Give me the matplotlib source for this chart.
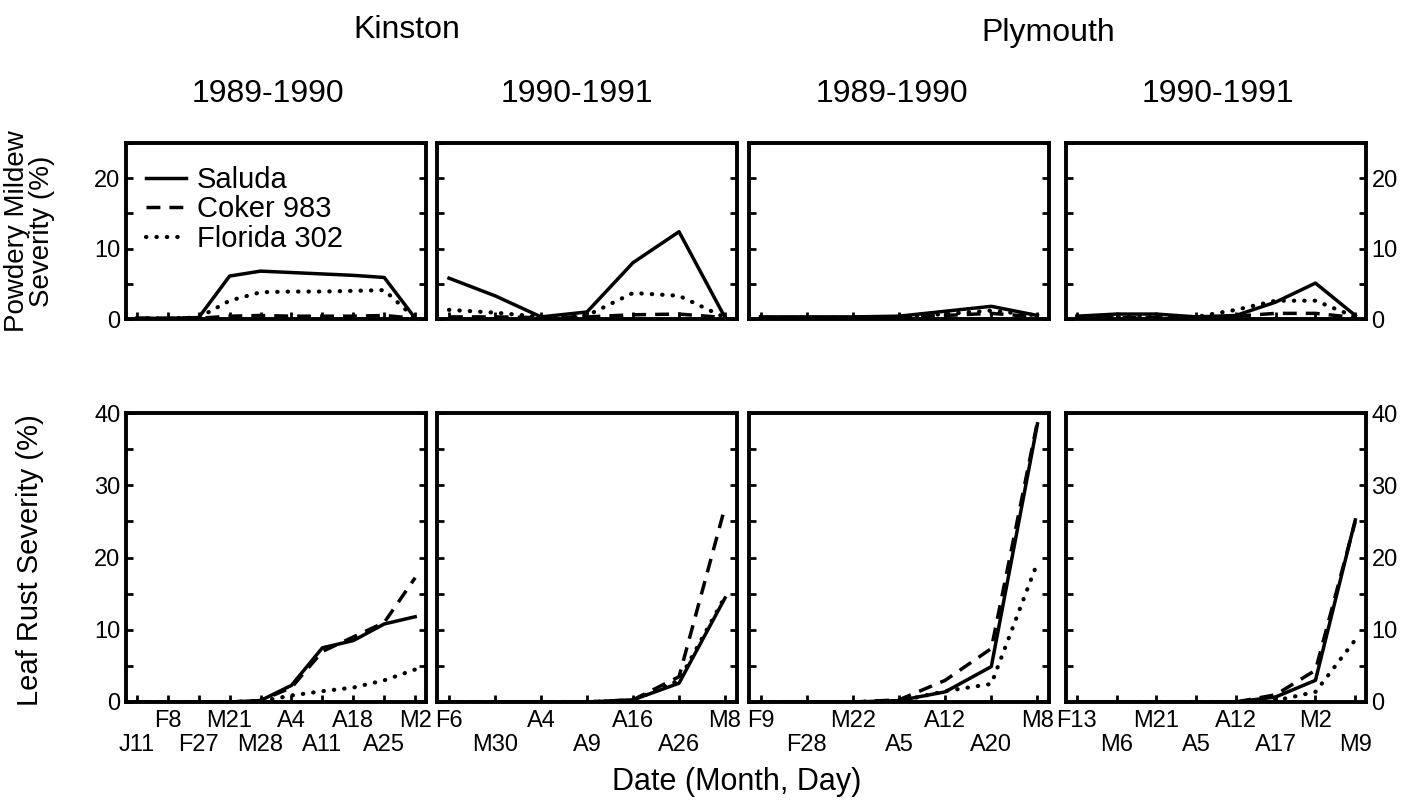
import matplotlib
matplotlib.use('Agg')
import matplotlib.pyplot as plt
from matplotlib import font_manager
from matplotlib.ticker import MultipleLocator

plt.rcParams['font.family'] = ['Liberation Sans', 'DejaVu Sans']

# narrow face for the headers if it is installed (the original looks condensed)
installed = {f.name for f in font_manager.fontManager.ttflist}
if 'Liberation Sans Narrow' in installed:
    head_font, head_size = 'Liberation Sans Narrow', 27
else:
    head_font, head_size = 'Liberation Sans', 23

# sampling dates per site/season (labels as printed)
dates_k90 = ['J11', 'F8', 'F27', 'M21', 'M28', 'A4', 'A11', 'A18', 'A25', 'M2']
dates_k91 = ['F6', 'M30', 'A4', 'A9', 'A16', 'A26', 'M8']
dates_p90 = ['F9', 'F28', 'M22', 'A5', 'A12', 'A20', 'M8']
dates_p91 = ['F13', 'M6', 'M21', 'A5', 'A12', 'A17', 'M2', 'M9']

cultivars = ['Saluda', 'Coker 983', 'Florida 302']

# powdery mildew severity (%)
pm_saluda_k90 = [0.1, 0.1, 0.2, 6.1, 6.8, 6.6, 6.4, 6.2, 5.9, 0.1]
pm_coker_k90 = [0.1, 0.1, 0.1, 0.4, 0.5, 0.4, 0.4, 0.4, 0.5, 0.1]
pm_florida_k90 = [0.1, 0.1, 0.2, 2.6, 3.8, 3.9, 3.9, 4.0, 4.1, 0.1]

pm_saluda_k91 = [5.8, 3.3, 0.3, 1.0, 8.0, 12.4, 0.2]
pm_coker_k91 = [0.3, 0.3, 0.2, 0.3, 0.6, 0.7, 0.2]
pm_florida_k91 = [1.3, 0.9, 0.3, 0.5, 3.7, 3.3, 0.2]

pm_saluda_p90 = [0.3, 0.3, 0.3, 0.4, 1.1, 1.8, 0.5]
pm_coker_p90 = [0.2, 0.2, 0.2, 0.3, 0.5, 0.8, 0.3]
pm_florida_p90 = [0.2, 0.2, 0.2, 0.3, 0.7, 1.2, 0.5]

pm_saluda_p91 = [0.4, 0.7, 0.7, 0.3, 0.5, 2.4, 5.1, 0.5]
pm_coker_p91 = [0.2, 0.2, 0.2, 0.2, 0.4, 0.8, 0.8, 0.2]
pm_florida_p91 = [0.2, 0.3, 0.3, 0.3, 1.3, 2.6, 2.6, 0.3]

# leaf rust severity (%)
lr_saluda_k90 = [0, 0, 0, 0, 0.2, 2.3, 7.5, 8.5, 10.8, 11.8]
lr_coker_k90 = [0, 0, 0, 0, 0.2, 2.0, 7.0, 9.0, 11.0, 17.2]
lr_florida_k90 = [0, 0, 0, 0, 0.1, 0.9, 1.5, 2.0, 3.0, 4.5]

lr_saluda_k91 = [0, 0, 0, 0, 0.3, 2.6, 14.4]
lr_coker_k91 = [0, 0, 0, 0, 0.3, 3.5, 27.0]
lr_florida_k91 = [0, 0, 0, 0, 0.2, 3.0, 14.6]

lr_saluda_p90 = [0, 0, 0, 0.2, 1.4, 4.9, 38.5]
lr_coker_p90 = [0, 0, 0, 0.3, 3.0, 7.4, 38.8]
lr_florida_p90 = [0, 0, 0, 0.1, 1.5, 2.5, 19.3]

lr_saluda_p91 = [0, 0, 0, 0, 0, 0.7, 3.0, 25.2]
lr_coker_p91 = [0, 0, 0, 0, 0, 1.0, 4.4, 25.0]
lr_florida_p91 = [0, 0, 0, 0, 0, 0.2, 1.4, 8.6]

panels = [
    (dates_k90, [pm_saluda_k90, pm_coker_k90, pm_florida_k90],
     [lr_saluda_k90, lr_coker_k90, lr_florida_k90], True),
    (dates_k91, [pm_saluda_k91, pm_coker_k91, pm_florida_k91],
     [lr_saluda_k91, lr_coker_k91, lr_florida_k91], False),
    (dates_p90, [pm_saluda_p90, pm_coker_p90, pm_florida_p90],
     [lr_saluda_p90, lr_coker_p90, lr_florida_p90], False),
    (dates_p91, [pm_saluda_p91, pm_coker_p91, pm_florida_p91],
     [lr_saluda_p91, lr_coker_p91, lr_florida_p91], False),
]

line_styles = [
    dict(linestyle='-', linewidth=2.5),
    dict(linestyle=(0, (4, 2.6)), linewidth=2.5),
    dict(linestyle=(0, (0.1, 2.4)), linewidth=3.0, dash_capstyle='round'),
]

W, H = 1403, 802
fig = plt.figure(figsize=(W / 100, H / 100), dpi=100)

lefts = [126, 437, 749, 1066]
width = 300
margins = [0.35, 0.26, 0.25, 0.27]


def style_axes(ax, n, ymax, margin):
    ax.set_xlim(-margin, n - 1 + margin)
    ax.set_ylim(0, ymax)
    for sp in ax.spines.values():
        sp.set_linewidth(2.8)
    ax.yaxis.set_major_locator(MultipleLocator(10))
    ax.yaxis.set_minor_locator(MultipleLocator(5))
    ax.tick_params(axis='y', which='both', direction='in', left=True, right=True,
                   length=5, width=2, labelsize=17, pad=4,
                   labelleft=False, labelright=False)
    ax.tick_params(axis='x', which='both', direction='in', length=5, width=2,
                   top=False, labelsize=17)


for i, (dates, pm, lr, lower_even) in enumerate(panels):
    n = len(dates)
    xs = list(range(n))

    ax_top = fig.add_axes([lefts[i] / W, 1 - 319 / H, width / W, 176 / H])
    ax_bot = fig.add_axes([lefts[i] / W, 1 - 702 / H, width / W, 289 / H])

    for ax, series, ymax in [(ax_top, pm, 25), (ax_bot, lr, 40)]:
        for name, vals, st in zip(cultivars, series, line_styles):
            ax.plot(xs, vals, color='black', label=name, **st)
        style_axes(ax, n, ymax, margins[i])

    # top row: ticks only
    ax_top.set_xticks(xs)
    ax_top.set_xticklabels([])

    # bottom row: staggered date labels
    up = [k for k in xs if (k % 2 == 0) != lower_even]
    low = [k for k in xs if (k % 2 == 0) == lower_even]
    ax_bot.set_xticks(up)
    ax_bot.set_xticklabels([dates[k] for k in up])
    ax_bot.set_xticks(low, minor=True)
    ax_bot.set_xticklabels([dates[k] for k in low], minor=True)
    ax_bot.tick_params(axis='x', which='major', pad=6)
    ax_bot.tick_params(axis='x', which='minor', pad=23)

    if i == 0:
        ax_top.tick_params(axis='y', which='major', labelleft=True)
        ax_bot.tick_params(axis='y', which='major', labelleft=True)
        ax_top.legend(loc='upper left', bbox_to_anchor=(0.065, 0.87), frameon=False,
                      fontsize=21, handlelength=1.4, handletextpad=0.35,
                      labelspacing=0.05, borderpad=0, borderaxespad=0)
    if i == 3:
        ax_top.tick_params(axis='y', which='major', labelright=True)
        ax_bot.tick_params(axis='y', which='major', labelright=True)

# headers
fig.text(407 / W, 1 - 30 / H, 'Kinston', ha='center', va='center',
         fontsize=head_size, family=head_font)
fig.text(1048 / W, 1 - 33 / H, 'Plymouth', ha='center', va='center',
         fontsize=head_size, family=head_font)
for xc, txt in zip([268, 577, 892, 1218], ['1989-1990', '1990-1991', '1989-1990', '1990-1991']):
    fig.text(xc / W, 1 - 94 / H, txt, ha='center', va='center',
             fontsize=head_size, family=head_font)

fig.text(30 / W, 1 - 231 / H, 'Powdery Mildew\nSeverity (%)', rotation=90,
         ha='center', va='center', fontsize=20, linespacing=0.95)
fig.text(30 / W, 1 - 560 / H, 'Leaf Rust Severity (%)', rotation=90,
         ha='center', va='center', fontsize=21)
fig.text(737 / W, 1 - 782 / H, 'Date (Month, Day)', ha='center', va='center', fontsize=22)

fig.savefig('out.png', dpi=100)
